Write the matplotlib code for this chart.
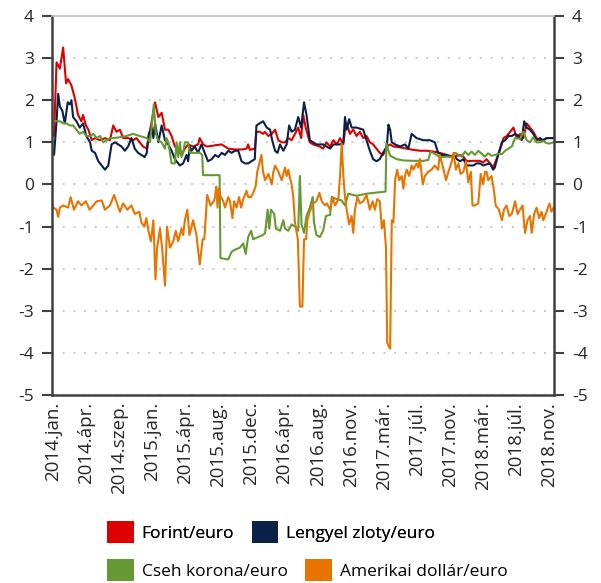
import matplotlib
matplotlib.use("Agg")
import matplotlib.pyplot as plt
from matplotlib.patches import Patch

plt.rcParams['font.family'] = ['Open Sans', 'DejaVu Sans']
plt.rcParams['axes.unicode_minus'] = False

# x tengely: kereskedési napok sorszáma (0 = 2014.jan.), címke minden 80. napnál
tick_days = [0, 80, 160, 240, 320, 400, 480, 560, 640, 720, 800, 880, 960, 1040, 1120, 1200]
tick_labels = ['2014.jan.', '2014.ápr.', '2014.szep.', '2015.jan.', '2015.ápr.', '2015.aug.',
               '2015.dec.', '2016.ápr.', '2016.aug.', '2016.nov.', '2017.már.', '2017.júl.',
               '2017.nov.', '2018.már.', '2018.júl.', '2018.nov.']

# Forint/euro
forint_days = [0, 3, 9, 17, 25, 32, 37, 45, 53, 61, 69, 73, 80, 86, 94, 102, 114, 126, 138, 146,
               154, 162, 170, 182, 194, 202, 210, 218, 227, 231, 239, 247, 255, 263, 271, 279, 287,
               295, 303, 311, 319, 327, 339, 351, 355, 363, 372, 388, 392, 408, 424, 440, 456, 468,
               472, 476, 488, 492, 500, 508, 512, 521, 529, 537, 545, 553, 561, 569, 577, 585, 593,
               600, 605, 611, 621, 629, 645, 653, 661, 670, 678, 686, 694, 702, 706, 710, 718, 726,
               734, 742, 750, 758, 766, 774, 782, 790, 798, 807, 815, 823, 839, 855, 871, 887, 903,
               919, 935, 952, 968, 976, 984, 992, 1000, 1016, 1032, 1040, 1048, 1056, 1064, 1072,
               1080, 1089, 1097, 1105, 1113, 1121, 1129, 1137, 1145, 1153, 1161, 1169, 1177, 1185,
               1193, 1209]
forint_vals = [1.2, 1.15, 2.9, 2.75, 3.25, 2.4, 2.5, 2.35, 2.05, 1.65, 1.5, 1.65, 1.4, 1.3, 1.05,
               1.1, 1.05, 1.1, 1.05, 1.4, 1.25, 1.3, 1.1, 1.1, 1.05, 1.1, 1.0, 0.9, 0.85, 1.1, 1.5,
               1.95, 1.6, 1.7, 1.3, 1.3, 1.15, 0.9, 0.8, 0.7, 0.85, 0.95, 0.9, 0.95, 1.1, 0.95, 0.9,
               0.92, 0.93, 0.95, 0.85, 0.83, 0.83, 0.85, 0.95, 0.82, 0.85, 1.25, 1.25, 1.2, 1.25,
               1.15, 1.2, 1.3, 1.05, 1.0, 1.0, 1.1, 1.05, 1.2, 1.35, 1.1, 1.65, 1.35, 1.0, 0.95, 0.9,
               0.85, 1.0, 0.9, 1.05, 0.95, 1.1, 0.95, 1.3, 1.45, 1.2, 1.3, 1.15, 1.25, 1.1, 1.15, 1.0,
               0.95, 0.85, 0.75, 0.7, 0.9, 0.95, 0.9, 0.88, 0.85, 0.82, 0.8, 0.8, 0.78, 0.75, 0.7,
               0.66, 0.68, 0.7, 0.66, 0.55, 0.56, 0.56, 0.52, 0.6, 0.5, 0.4, 0.6, 0.8, 1.1, 1.15,
               1.25, 1.35, 1.1, 1.2, 1.1, 1.45, 1.35, 1.25, 1.1, 1.05, 1.05, 1.1, 1.1]

# Lengyel zloty/euro
zloty_days = [0, 3, 9, 13, 17, 23, 29, 36, 41, 45, 49, 57, 65, 73, 81, 90, 94, 102, 110, 118, 126,
              134, 142, 150, 158, 166, 174, 182, 190, 198, 206, 214, 222, 227, 232, 239, 243, 247,
              255, 263, 271, 279, 287, 295, 303, 307, 315, 323, 327, 331, 335, 343, 351, 359, 367,
              375, 384, 392, 400, 408, 416, 424, 432, 440, 448, 456, 464, 472, 480, 488, 492, 500,
              508, 517, 525, 530, 537, 543, 549, 557, 565, 571, 577, 585, 593, 600, 607, 613, 621,
              637, 653, 670, 678, 694, 702, 706, 710, 716, 722, 734, 750, 758, 766, 774, 782, 790,
              798, 807, 811, 815, 819, 827, 839, 851, 859, 867, 879, 895, 911, 923, 931, 940, 952,
              960, 968, 976, 984, 992, 1000, 1016, 1024, 1032, 1040, 1056, 1064, 1068, 1076, 1085,
              1093, 1101, 1109, 1117, 1125, 1133, 1139, 1145, 1153, 1161, 1169, 1177, 1185, 1193,
              1209]
zloty_vals = [0.8, 0.7, 1.5, 2.15, 1.85, 1.75, 1.45, 1.95, 1.9, 2.0, 1.6, 1.5, 1.35, 1.45, 1.15,
              1.0, 0.8, 0.75, 0.55, 0.45, 0.35, 0.45, 0.95, 1.0, 0.95, 0.9, 0.8, 0.9, 1.1, 0.85,
              0.75, 0.7, 0.65, 0.75, 1.2, 1.35, 1.1, 1.45, 1.0, 1.4, 1.05, 0.95, 0.8, 0.6, 0.5,
              0.45, 0.5, 0.7, 0.55, 0.9, 0.8, 0.9, 0.75, 0.95, 0.75, 0.55, 0.6, 0.7, 0.65, 0.75,
              0.7, 0.8, 0.75, 0.8, 0.8, 0.55, 0.5, 0.5, 0.55, 0.6, 1.4, 1.45, 1.5, 1.35, 1.3, 1.05,
              0.8, 0.75, 0.95, 0.8, 0.95, 1.4, 1.25, 1.3, 1.6, 1.35, 1.95, 1.65, 1.05, 0.95, 0.95,
              0.85, 0.95, 0.95, 1.0, 1.6, 1.3, 1.55, 1.35, 1.35, 1.3, 1.05, 0.8, 0.6, 0.55, 0.6,
              0.75, 0.9, 1.42, 1.3, 1.0, 0.95, 0.9, 0.95, 0.85, 1.2, 1.1, 1.05, 1.05, 1.0, 0.75,
              0.7, 0.7, 0.65, 0.7, 0.6, 0.55, 0.6, 0.45, 0.45, 0.5, 0.5, 0.45, 0.5, 0.35, 0.4, 0.7,
              1.0, 1.05, 1.15, 1.15, 1.2, 1.15, 1.05, 1.5, 1.35, 1.3, 1.2, 1.05, 1.1, 1.05, 1.1,
              1.1]

# Cseh korona/euro
korona_days = [0, 17, 25, 33, 41, 49, 57, 65, 73, 81, 90, 98, 106, 114, 122, 130, 138, 146, 162,
               178, 194, 210, 227, 235, 239, 244, 249, 255, 263, 271, 275, 279, 287, 295, 299, 303,
               307, 311, 315, 319, 327, 331, 355, 361, 363, 403, 405, 424, 432, 440, 452, 460, 466,
               472, 479, 484, 496, 508, 513, 519, 523, 527, 535, 539, 549, 557, 561, 569, 577, 585,
               593, 597, 601, 607, 613, 621, 628, 631, 637, 645, 653, 660, 670, 674, 686, 698, 706,
               714, 734, 758, 804, 806, 811, 815, 831, 847, 871, 895, 907, 913, 927, 935, 952, 964,
               972, 980, 988, 996, 1004, 1012, 1020, 1028, 1036, 1044, 1052, 1060, 1068, 1076,
               1085, 1093, 1101, 1109, 1117, 1129, 1137, 1145, 1153, 1161, 1169, 1177, 1185, 1193,
               1201, 1209]
korona_vals = [1.5, 1.5, 1.45, 1.45, 1.4, 1.4, 1.3, 1.2, 1.25, 1.15, 1.15, 1.2, 1.1, 1.15, 1.0,
               1.05, 1.1, 1.1, 1.12, 1.15, 1.2, 1.15, 1.1, 1.0, 1.4, 1.9, 1.2, 1.05, 1.0, 0.85, 1.1,
               1.0, 0.5, 0.5, 1.0, 0.65, 1.0, 0.65, 0.75, 1.0, 1.0, 0.75, 0.75, 0.7, 0.22, 0.22,
               -1.75, -1.78, -1.6, -1.55, -1.5, -1.4, -1.65, -1.25, -1.1, -1.3, -1.25, -1.2, -1.15,
               -0.6, -1.05, -0.6, -0.7, -1.05, -1.1, -0.85, -1.05, -1.1, -0.95, -1.0, -1.1, 0.2,
               -0.95, -1.15, -0.75, -0.55, -0.3, -0.9, -1.2, -1.25, -1.1, -0.75, -0.72, -0.3,
               -0.35, -0.38, -0.5, -0.22, -0.27, -0.22, -0.17, 0.97, 0.8, 0.68, 0.6, 0.57, 0.56,
               0.56, 0.58, 0.78, 0.7, 0.65, 0.66, 0.65, 0.75, 0.7, 0.66, 0.78, 0.7, 0.78, 0.7, 0.8,
               0.73, 0.66, 0.74, 0.68, 0.7, 0.73, 0.72, 0.8, 0.85, 0.9, 1.1, 1.08, 1.25, 1.05, 1.0,
               1.12, 1.0, 1.0, 1.03, 0.98, 0.97, 1.0]

# Amerikai dollár/euro
dollar_days = [0, 1, 9, 13, 17, 25, 37, 43, 51, 61, 69, 80, 89, 106, 118, 126, 138, 148, 162, 170,
               180, 190, 198, 209, 214, 221, 226, 231, 237, 243, 248, 252, 259, 264, 271, 276, 283,
               291, 297, 303, 311, 315, 319, 325, 330, 339, 347, 355, 362, 366, 373, 381, 389, 392,
               395, 398, 401, 406, 412, 416, 424, 428, 434, 438, 444, 450, 455, 460, 468, 472, 479,
               484, 490, 494, 499, 504, 508, 513, 521, 529, 533, 537, 545, 553, 557, 561, 565, 569,
               573, 577, 581, 585, 592, 597, 603, 607, 612, 615, 621, 629, 637, 644, 650, 658, 662,
               670, 676, 682, 690, 694, 698, 702, 706, 710, 716, 722, 726, 730, 736, 742, 750, 758,
               766, 773, 778, 784, 790, 795, 800, 805, 808, 812, 815, 819, 823, 827, 832, 837, 843,
               847, 851, 855, 861, 867, 871, 879, 883, 887, 894, 899, 907, 915, 923, 931, 935, 943,
               950, 956, 964, 968, 974, 980, 985, 992, 998, 1004, 1010, 1014, 1020, 1028, 1034,
               1040, 1044, 1048, 1052, 1060, 1066, 1070, 1078, 1085, 1090, 1096, 1103, 1109, 1117,
               1123, 1129, 1135, 1141, 1147, 1153, 1157, 1163, 1169, 1175, 1181, 1185, 1193, 1200,
               1205, 1210]
dollar_vals = [-0.5, -0.55, -0.6, -0.77, -0.55, -0.5, -0.55, -0.3, -0.6, -0.4, -0.5, -0.4, -0.6,
               -0.4, -0.38, -0.6, -0.5, -0.25, -0.65, -0.45, -0.6, -0.5, -0.7, -0.65, -0.9, -1.0,
               -0.8, -1.1, -1.35, -0.85, -2.25, -1.5, -1.05, -1.5, -2.4, -1.0, -1.5, -1.35, -1.1,
               -1.35, -1.05, -1.2, -0.85, -0.6, -1.2, -0.85, -1.2, -1.9, -1.3, -1.3, -0.25, -0.5,
               -0.4, -0.3, -0.05, -0.55, -0.1, -0.3, -0.4, -0.55, -0.3, -0.4, -0.8, -0.4, -0.55,
               -0.3, -0.55, -0.35, -0.15, -0.3, -0.3, -0.2, -0.05, 0.3, 0.5, 0.7, 0.3, 0.1, 0.25,
               0.0, 0.3, 0.45, 0.3, 0.1, 0.25, 0.4, 0.2, 0.35, 0.15, 0.0, -0.3, -0.9, -1.3, -2.9,
               -2.9, -1.3, -1.3, -0.85, -0.65, -0.45, -0.4, -0.2, -0.4, -0.5, -0.45, -0.6, -0.3,
               -0.5, -0.35, 0.2, 0.97, 0.2, -0.3, -0.6, -0.95, -0.75, -1.15, -0.6, -0.3, -0.45,
               -0.4, -0.25, -0.6, -0.4, -0.6, -0.35, -0.4, -1.05, -0.85, -1.5, -3.75, -3.85, -3.9,
               -0.85, -0.9, 0.1, 0.35, 0.1, 0.2, -0.1, 0.2, 0.35, 0.2, 0.45, 0.35, 0.5, 0.4, 0.6,
               0.0, 0.2, 0.3, 0.35, 0.45, 0.35, 0.7, 0.4, 0.1, 0.3, 0.55, 0.75, 0.35, 0.5, 0.25, 0.3,
               0.55, 0.05, 0.3, -0.5, -0.5, -0.45, 0.25, 0.0, 0.3, 0.3, 0.1, 0.2, -0.15, -0.5, -0.6,
               -0.85, -0.6, -0.5, -0.75, -0.7, -0.4, -0.7, -0.6, -0.5, -1.15, -0.85, -0.75, -1.15,
               -0.7, -0.55, -0.8, -0.65, -0.85, -0.65, -0.45, -0.65, -0.55]

y_ticks = [-5, -4, -3, -2, -1, 0, 1, 2, 3, 4]

series = [
    (forint_days, forint_vals, '#DC0000', 'Forint/euro'),
    (zloty_days, zloty_vals, '#0C2148', 'Lengyel zloty/euro'),
    (korona_days, korona_vals, '#669933', 'Cseh korona/euro'),
    (dollar_days, dollar_vals, '#E87400', 'Amerikai dollár/euro'),
]

fig = plt.figure(figsize=(6.01, 5.83), dpi=100)
ax = fig.add_axes([0.0865, 0.3225, 0.8353, 0.6501])

for days, vals, color, name in series:
    ax.plot(days, vals, color=color, linewidth=1.5, solid_joinstyle='round')

ax.set_xlim(-2, 1211)
ax.set_ylim(-5, 4)
ax.set_yticks(y_ticks)
ax.set_xticks(tick_days)
ax.set_xticklabels(tick_labels, rotation=90, fontsize=13.5, color='#262626')

ax.grid(axis='y', color='#c8c8c8', linestyle=(0, (1, 4.5)), linewidth=1.4)
ax.set_axisbelow(True)

for side in ['left', 'bottom', 'right']:
    ax.spines[side].set_color('#404040')
    ax.spines[side].set_linewidth(1.8)
ax.spines['top'].set_color('#c0c0c0')
ax.spines['top'].set_linewidth(1.2)

ax.tick_params(axis='y', left=True, right=True, labelleft=True, labelright=True,
               direction='out', length=7, width=1.5, color='#404040',
               labelsize=12.5, labelcolor='#262626', pad=6)
ax.tick_params(axis='x', length=0, pad=5)

# Jelmagyarázat két sorban, balra igazítva
handles = [Patch(facecolor=c, edgecolor='none', label=n) for _, _, c, n in series]
leg_kw = dict(frameon=False, ncol=2, fontsize=12.5, handlelength=1.55, handleheight=1.55,
              handletextpad=0.45, columnspacing=1.0, borderpad=0, borderaxespad=0,
              loc='center left')
leg1 = fig.legend(handles=handles[:2], bbox_to_anchor=(0.178, 0.0875), **leg_kw)
fig.legend(handles=handles[2:], bbox_to_anchor=(0.178, 0.022), **leg_kw)
fig.add_artist(leg1)

fig.savefig('out.png', dpi=100)
plt.close(fig)
